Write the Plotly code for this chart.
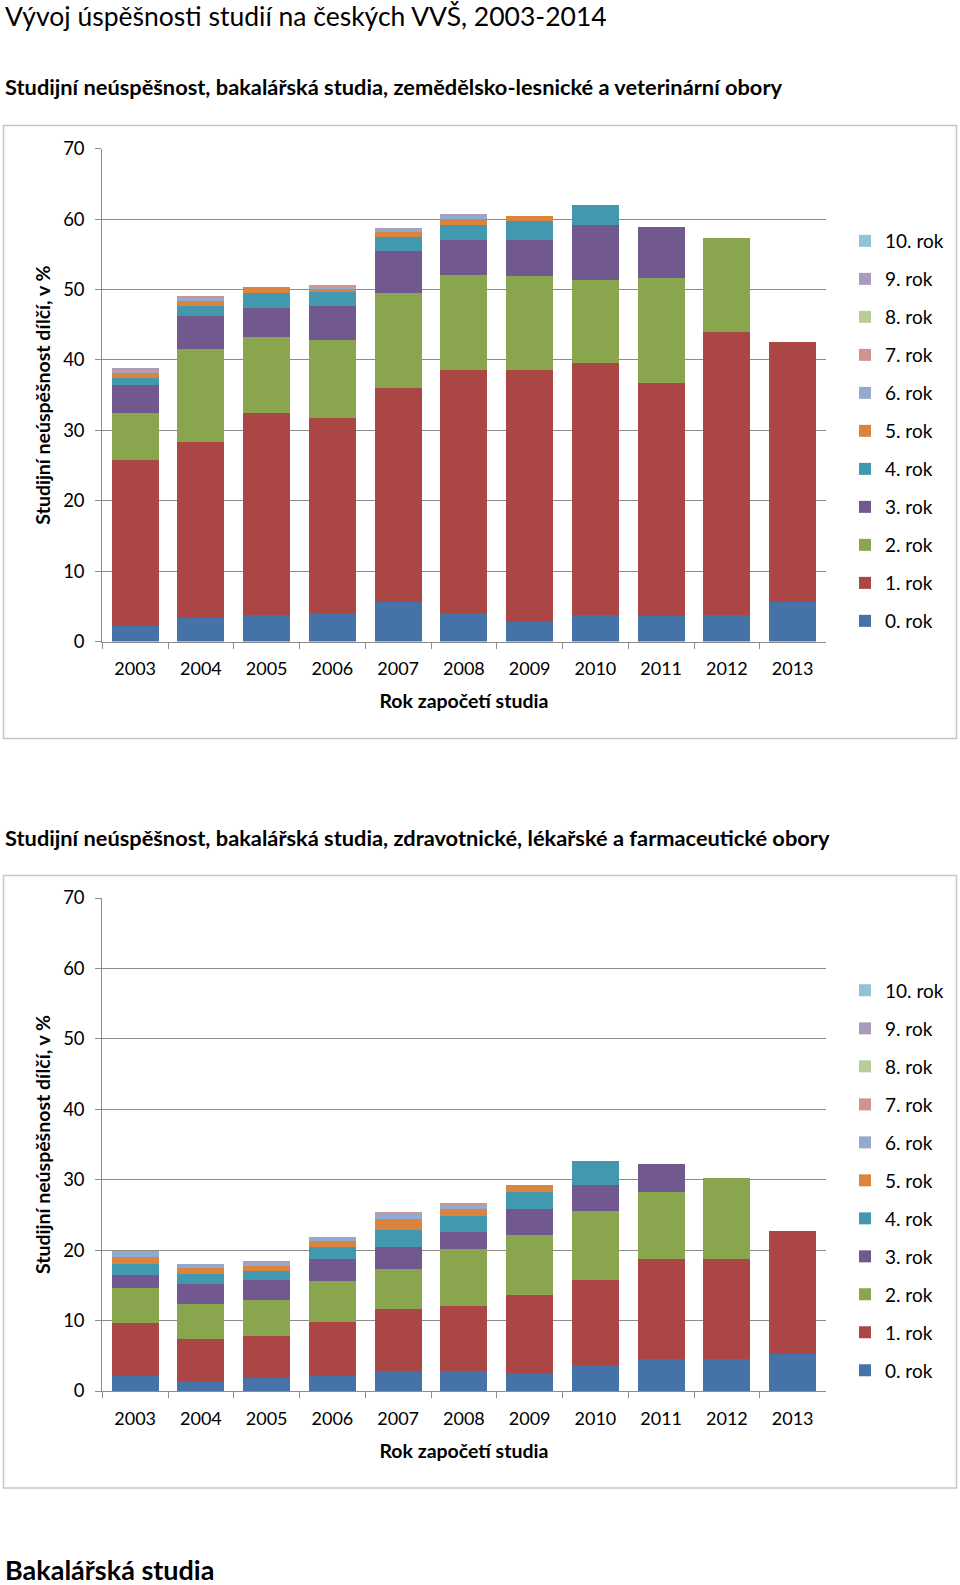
import plotly.graph_objects as go

W, H = 960, 1585

years = ["2003", "2004", "2005", "2006", "2007", "2008", "2009", "2010", "2011", "2012", "2013"]
series_names = ["0. rok", "1. rok", "2. rok", "3. rok", "4. rok", "5. rok",
                "6. rok", "7. rok", "8. rok", "9. rok", "10. rok"]
series_colors = ["#4572A7", "#AA4643", "#89A54E", "#71588F", "#4198AF", "#DB843D",
                 "#93A9CF", "#D19392", "#B9CD96", "#A99BBD", "#92C3D5"]

# Chart 1: zemědělsko-lesnické a veterinární obory
agri_r0 = [2.2, 3.3, 3.8, 4.1, 5.6, 4.0, 2.7, 3.8, 3.6, 3.8, 5.6]
agri_r1 = [23.6, 25.0, 28.7, 27.6, 30.4, 34.6, 35.8, 35.7, 33.1, 40.1, 36.9]
agri_r2 = [6.7, 13.2, 10.8, 11.1, 13.5, 13.5, 13.4, 11.9, 15.0, 13.4, 0]
agri_r3 = [3.9, 4.7, 4.1, 4.9, 6.0, 5.0, 5.1, 7.8, 7.2, 0, 0]
agri_r4 = [1.1, 1.5, 2.1, 2.0, 2.0, 2.1, 2.7, 2.8, 0, 0, 0]
agri_r5 = [0.6, 0.7, 0.8, 0.5, 0.6, 0.8, 0.8, 0, 0, 0, 0]
agri_r6 = [0.5, 0.5, 0, 0.2, 0.4, 0.5, 0, 0, 0, 0, 0]
agri_r7 = [0.1, 0.1, 0, 0.2, 0.2, 0.2, 0, 0, 0, 0, 0]
agri_r8 = [0, 0, 0, 0, 0, 0, 0, 0, 0, 0, 0]
agri_r9 = [0.1, 0, 0, 0, 0.05, 0.05, 0, 0, 0, 0, 0]
agri_r10 = [0, 0, 0, 0, 0, 0, 0, 0, 0, 0, 0]

# Chart 2: zdravotnické, lékařské a farmaceutické obory
med_r0 = [2.2, 1.4, 1.9, 2.1, 2.9, 2.9, 2.5, 3.6, 4.5, 4.5, 5.2]
med_r1 = [7.4, 6.0, 5.9, 7.7, 8.8, 9.2, 11.2, 12.1, 14.2, 14.3, 17.5]
med_r2 = [5.0, 5.0, 5.1, 5.8, 5.6, 8.0, 8.5, 9.8, 9.6, 11.4, 0]
med_r3 = [1.9, 2.8, 2.9, 3.1, 3.2, 2.5, 3.6, 3.8, 3.9, 0, 0]
med_r4 = [1.5, 1.4, 1.2, 1.7, 2.3, 2.3, 2.5, 3.4, 0, 0, 0]
med_r5 = [1.0, 0.9, 0.7, 0.9, 1.6, 1.0, 1.0, 0, 0, 0, 0]
med_r6 = [0.9, 0.6, 0.5, 0.6, 0.7, 0.6, 0, 0, 0, 0, 0]
med_r7 = [0, 0, 0.1, 0, 0.3, 0.1, 0, 0, 0, 0, 0]
med_r8 = [0, 0, 0, 0, 0, 0, 0, 0, 0, 0, 0]
med_r9 = [0, 0, 0.2, 0, 0, 0, 0, 0, 0, 0, 0]
med_r10 = [0, 0, 0, 0, 0, 0, 0, 0, 0, 0, 0]

agri_series = [agri_r0, agri_r1, agri_r2, agri_r3, agri_r4, agri_r5,
               agri_r6, agri_r7, agri_r8, agri_r9, agri_r10]
med_series = [med_r0, med_r1, med_r2, med_r3, med_r4, med_r5,
              med_r6, med_r7, med_r8, med_r9, med_r10]

FONT = "Lato, 'Open Sans', sans-serif"


def px_x(x):
    return x / W


def px_y(y):
    return 1 - y / H


fig = go.Figure()

for i, name in enumerate(series_names):
    fig.add_trace(go.Bar(
        x=years, y=agri_series[i], name=name,
        marker=dict(color=series_colors[i], line=dict(width=0)),
        xaxis="x", yaxis="y", legend="legend", legendgroup="a" + str(i),
        legendrank=100 - i,
    ))
for i, name in enumerate(series_names):
    fig.add_trace(go.Bar(
        x=years, y=med_series[i], name=name,
        marker=dict(color=series_colors[i], line=dict(width=0)),
        xaxis="x2", yaxis="y2", legend="legend2", legendgroup="m" + str(i),
        legendrank=100 - i,
    ))

grid = "#8c8c8c"
xdom = [px_x(102.3), px_x(825.5)]


def xaxis_cfg(anchor):
    return dict(
        domain=xdom, anchor=anchor, type="category",
        showline=True, linecolor=grid, linewidth=1,
        ticks="outside", ticklen=6, tickcolor=grid, tickson="boundaries",
        tickfont=dict(family=FONT, size=18, color="#000"),
        ticklabelstandoff=11,
        title=dict(text="<b>Rok započetí studia</b>", font=dict(family=FONT, size=19.5, color="#000"),
                   standoff=16),
        automargin=False, showgrid=False, fixedrange=True,
    )


def yaxis_cfg(anchor, dom):
    return dict(
        domain=dom, anchor=anchor, range=[0, 70], dtick=10,
        showline=True, linecolor=grid, linewidth=1,
        ticks="outside", ticklen=6, tickcolor=grid,
        showgrid=True, gridcolor=grid, gridwidth=1,
        tickfont=dict(family=FONT, size=18.5, color="#000"),
        ticklabelstandoff=7,
        title=dict(text="<b>Studijní neúspěšnost dílčí, v %</b>",
                   font=dict(family=FONT, size=19.5, color="#000"), standoff=7),
        automargin=False, zeroline=False, fixedrange=True,
    )


legend_common = dict(
    traceorder="grouped", tracegroupgap=10.3,
    font=dict(family=FONT, size=19, color="#000"),
    bgcolor="rgba(0,0,0,0)", xanchor="left", yanchor="top",
)

fig.update_layout(
    width=W, height=H,
    margin=dict(l=0, r=0, t=0, b=0),
    paper_bgcolor="white", plot_bgcolor="white",
    barmode="stack", bargap=0.285,
    font=dict(family=FONT, color="#000"),
    xaxis=xaxis_cfg("y"),
    yaxis=yaxis_cfg("x", [px_y(641.5), px_y(148.7)]),
    xaxis2=xaxis_cfg("y2"),
    yaxis2=yaxis_cfg("x2", [px_y(1391), px_y(898)]),
    legend=dict(x=px_x(845), y=px_y(222), **legend_common),
    legend2=dict(x=px_x(845), y=px_y(971.5), **legend_common),
    showlegend=True,
)

# chart frames
for (y0, y1) in [(125.5, 738.5), (875.5, 1488)]:
    fig.add_shape(type="rect", xref="paper", yref="paper",
                  x0=px_x(3.5), x1=px_x(956.5), y0=px_y(y1), y1=px_y(y0),
                  line=dict(color="#c6c6c6", width=1.5), fillcolor="rgba(0,0,0,0)", layer="below")

texts = [
    ("Vývoj úspěšnosti studií na českých VVŠ, 2003-2014", 16, 26.5, False),
    ("Studijní neúspěšnost, bakalářská studia, zemědělsko-lesnické a veterinární obory", 87, 21.8, True),
    ("Studijní neúspěšnost, bakalářská studia, zdravotnické, lékařské a farmaceutické obory", 837, 21.8, True),
    ("Bakalářská studia", 1569, 27, True),
]
for txt, yc, size, bold in texts:
    fig.add_annotation(
        text=("<b>" + txt + "</b>") if bold else txt,
        xref="paper", yref="paper", x=px_x(3), y=px_y(yc),
        xanchor="left", yanchor="middle", showarrow=False,
        font=dict(family=FONT, size=size, color="#000"),
    )

fig.write_html(
    "out.html",
    config={"displayModeBar": False},
    post_script="document.body.style.margin='0';document.body.style.overflow='hidden';",
)
